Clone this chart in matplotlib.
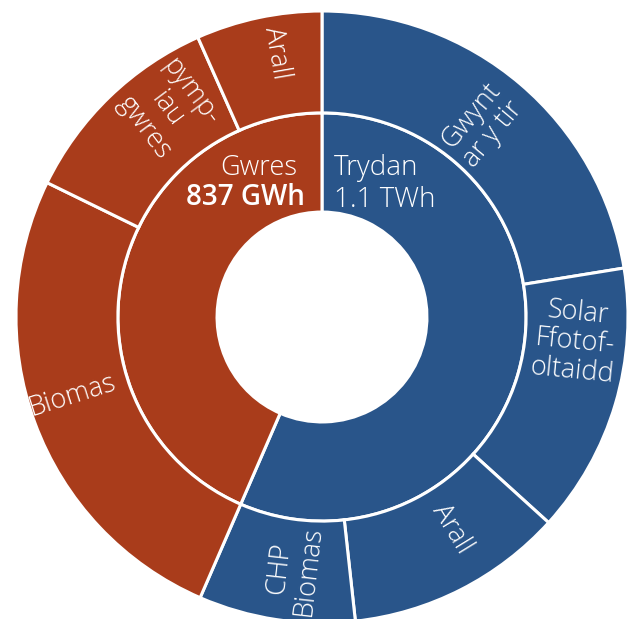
import numpy as np
import matplotlib
matplotlib.use("Agg")
import matplotlib.pyplot as plt

# Inner ring: main groups (GWh)
groups = ["Trydan", "Gwres"]
group_totals = [1088, 837]

# Outer ring: sources within each group (GWh), clockwise from the top
sources = ["Gwynt\nar y tir", "Solar\nFfotof-\noltaidd", "Arall", "CHP\nBiomas",
           "Biomas", "pymp-\niau\ngwres", "Arall"]
source_values = [432, 275, 222, 159, 495, 214, 128]
source_group = [0, 0, 0, 0, 1, 1, 1]

blue = "#29558a"
rust = "#a93c1b"
group_colors = [blue, rust]

plt.rcParams['font.family'] = ['Open Sans', 'DejaVu Sans']
fw = "light"

fig = plt.figure(figsize=(6.32, 6.19), dpi=100)
ax = fig.add_axes([0, 0, 1, 1])

wp = dict(edgecolor="white", linewidth=2.2)
ax.pie(group_totals, radius=0.667, startangle=90, counterclock=False,
       colors=group_colors, wedgeprops=dict(width=0.667 - 0.343, **wp))
ax.pie(source_values, radius=1.0, startangle=90, counterclock=False,
       colors=[group_colors[g] for g in source_group],
       wedgeprops=dict(width=0.333, **wp))

# outer labels, oriented along the radius (small nudges so they sit like the original)
nudge_deg = [-0.6, -10.9, -4.5, -2.2, 2.7, 7.2, 2.2]
label_r = [0.817, 0.83, 0.814, 0.832, 0.856, 0.846, 0.876]
total = sum(source_values)
cum = np.cumsum([0] + source_values)
for i, lab in enumerate(sources):
    mid = (cum[i] + cum[i + 1]) / 2 / total * 360 + nudge_deg[i]
    ang = 90 - mid
    x = label_r[i] * np.cos(np.radians(ang))
    y = label_r[i] * np.sin(np.radians(ang))
    rot = ang
    while rot > 90:
        rot -= 180
    while rot <= -90:
        rot += 180
    ax.text(x, y, lab, rotation=rot, rotation_mode="anchor", ha="center", va="center",
            color="white", fontsize=19.5, linespacing=1.05, fontweight=fw)

# inner labels, beside the top divider
ax.text(0.04, 0.465, "Trydan", ha="left", va="baseline", color="white", fontsize=20, fontweight=fw)
ax.text(0.04, 0.36, "1.1 TWh", ha="left", va="baseline", color="white", fontsize=20, fontweight=fw)
ax.text(-0.08, 0.465, "Gwres", ha="right", va="baseline", color="white", fontsize=19.5, fontweight=fw)
ax.text(-0.055, 0.365, "837 GWh", ha="right", va="baseline", color="white",
        fontsize=20, fontweight="semibold")

R = 306.0
ax.set_xlim(-322 / R, (632 - 322) / R)
ax.set_ylim(-(619 - 317) / R, 317 / R)
ax.set_aspect("auto")
ax.axis("off")

fig.savefig("out.png", dpi=100)
